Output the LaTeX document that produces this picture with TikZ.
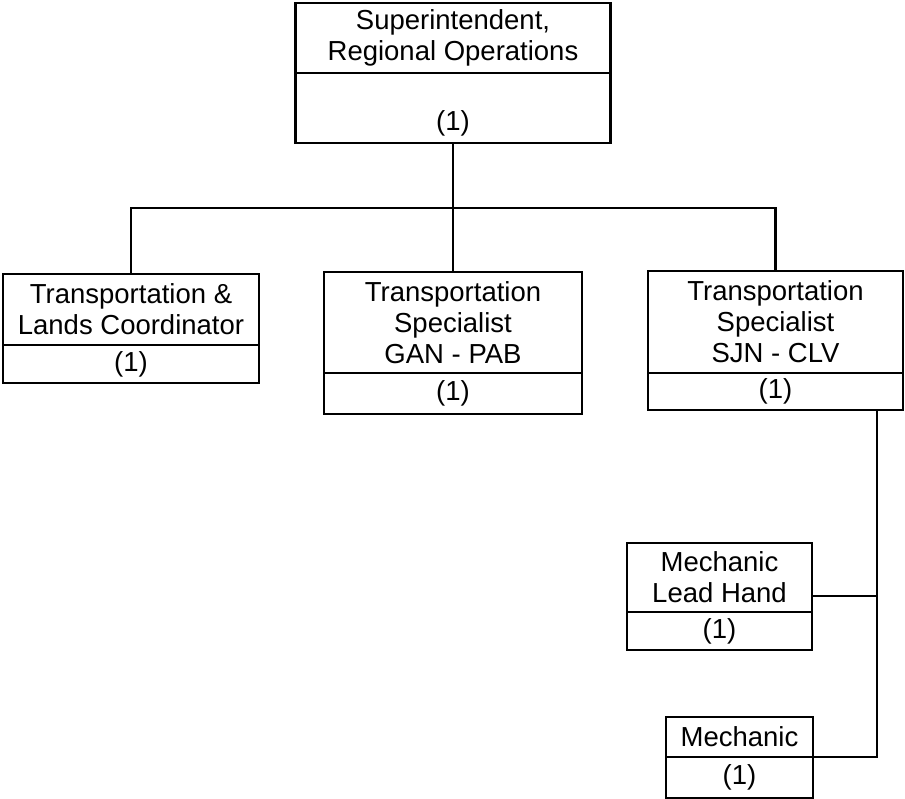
\documentclass[tikz,border=0pt]{standalone}
\usepackage{fontspec}
\setmainfont{Liberation Sans}
\usepackage{tikz}
\usetikzlibrary{calc,positioning}

\tikzset{
	title/.style={draw,line width=2.2,inner sep=0pt,outer sep=0pt,align=center,
		font=\fontsize{27.5}{31}\selectfont},
	count/.style={title},
	link/.style={line width=2.2}
}

\begin{document}
\begin{tikzpicture}[x=1pt,y=-1pt]
		\useasboundingbox (0,0) rectangle (905,799);
		% top
		\node(sup) [title,minimum width=315,minimum height=70,anchor=north] at (453,3) {Superintendent,\\Regional Operations};
		\node(supn) [below=0pt of sup,count,minimum width=315,text height=58,text depth=12] {(1)};
		% second row
		\node(tlc) [title,minimum width=256,minimum height=71,anchor=north] at (131,274) {Transportation \&\\Lands Coordinator};
		\node(tlcn) [below=0pt of tlc,count,minimum width=256,minimum height=38] {(1)};
		\node(gan) [title,minimum width=258,minimum height=101,anchor=north] at (453,272) {Transportation\\Specialist\\GAN - PAB};
		\node(gann) [below=0pt of gan,count,minimum width=258,minimum height=41] {(1)};
		\node(sjn) [title,minimum width=255,minimum height=102,anchor=north] at (775.5,271) {Transportation\\Specialist\\SJN - CLV};
		\node(sjnn) [below=0pt of sjn,count,minimum width=255,minimum height=37] {(1)};
		% mechanics
		\node(mlh) [title,minimum width=185,minimum height=69,anchor=north] at (719.5,543) {Mechanic\\Lead Hand};
		\node(mlhn) [below=0pt of mlh,count,minimum width=185,minimum height=38] {(1)};
		\node(mech) [title,minimum width=147,minimum height=40,anchor=north] at (739.5,717) {Mechanic};
		\node(mechn) [below=0pt of mech,count,minimum width=147,minimum height=41] {(1)};
		% connectors
		\coordinate (bus) at (453,208);
		\coordinate (d) at ($(sjnn.south east)+(-26,0)$);
		\coordinate (l) at ($(mlh.south east)+(0,-16)$);
		\draw[link] (supn.south) -- (gan.north);
		\draw[link] (tlc.north) |- (bus) -| (sjn.north);
		\draw[link] (d) -- (d |- mech.south east) -- (mech.south east);
		\draw[link] (d |- l) -- (l);
	\end{tikzpicture}
\end{document}
